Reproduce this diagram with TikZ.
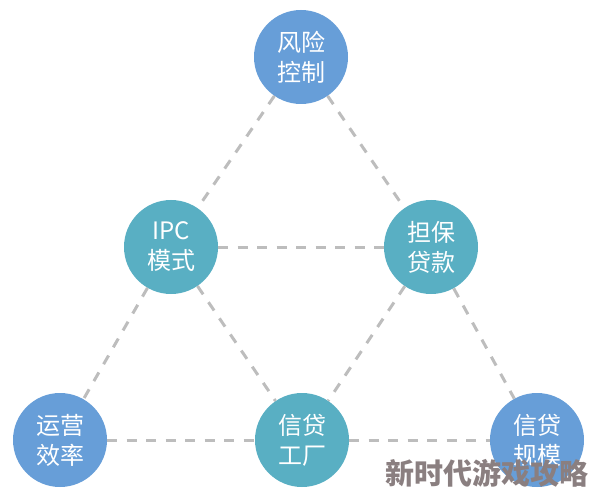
\documentclass[tikz,border=0pt]{standalone}
\usepackage{fontspec}
\setmainfont{Noto Sans CJK SC}
\newfontfamily\cjk{Noto Sans CJK SC}
\definecolor{riskblue}{HTML}{679ED8}
\definecolor{loanteal}{HTML}{59AFC3}
\definecolor{dashgray}{HTML}{BDBDBD}
\definecolor{markgray}{HTML}{8A7F80}

\begin{document}
\begin{tikzpicture}[x=1pt,y=-1pt]
						\tikzstyle{vertex}=[circle,minimum size=94pt,inner sep=0pt,text=white,align=center,font=\cjk\fontsize{24}{30}\selectfont]
						\tikzstyle{edge}=[draw=dashgray,line width=3pt,dash pattern=on 10pt off 9.5pt]
						\useasboundingbox (0,0) rectangle (594,497);
						\node[vertex,fill=riskblue] (1) at (301,57) {风险\\控制};
						\node[vertex,fill=loanteal] (2) at (171,247) {IPC\\模式};
						\node[vertex,fill=loanteal] (3) at (431,247) {担保\\贷款};
						\node[vertex,fill=riskblue] (4) at (60,440) {运营\\效率};
						\node[vertex,fill=loanteal] (5) at (302,440) {信贷\\工厂};
						\node[vertex,fill=riskblue] (6) at (537,440) {信贷\\规模};
						\draw[edge] (1) -- (2);
						\draw[edge] (1) -- (3);
						\draw[edge] (2) -- (3);
						\draw[edge] (2) -- (4);
						\draw[edge] (2) -- (5);
						\draw[edge] (3) -- (5);
						\draw[edge] (3) -- (6);
						\draw[edge] (4) -- (5);
						\draw[edge] (5) -- (6);
						\node[text=markgray,font=\cjk\bfseries\fontsize{29}{32}\selectfont] (wm) at (487,473) {新时代游戏攻略};
						\end{tikzpicture}
\end{document}
